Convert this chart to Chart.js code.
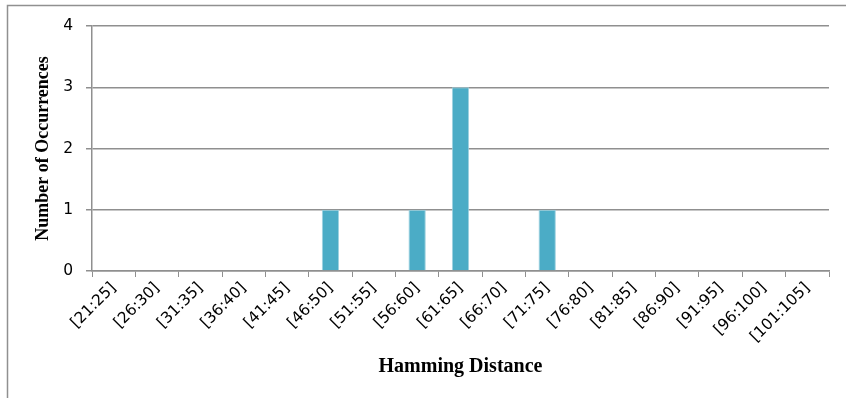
<!DOCTYPE html>
<html>
<head>
<meta charset="utf-8">
<script src="https://cdn.jsdelivr.net/npm/chart.js@4.4.0/dist/chart.umd.min.js"></script>
<style>
  html, body { margin: 0; padding: 0; background: #fff; }
  #wrap { width: 846px; height: 398px; position: relative; }
</style>
</head>
<body>
<div id="wrap"><canvas id="myChart" width="846" height="398"></canvas></div>
<script>
// bins of hamming distance
const categories = ['[21:25]', '[26:30]', '[31:35]', '[36:40]', '[41:45]', '[46:50]', '[51:55]', '[56:60]',
  '[61:65]', '[66:70]', '[71:75]', '[76:80]', '[81:85]', '[86:90]', '[91:95]', '[96:100]', '[101:105]'];
const occurrences = [0, 0, 0, 0, 0, 1, 0, 1, 3, 0, 1, 0, 0, 0, 0, 0, 0];
const yTicks = [0, 1, 2, 3, 4];

const gridColor = '#8f8f8f';

// outer frame of the chart (only left and top edges are visible)
const framePlugin = {
  id: 'frame',
  beforeDraw(chart) {
    const c = chart.ctx;
    c.save();
    c.strokeStyle = '#909090';
    c.lineWidth = 1.5;
    c.beginPath();
    c.moveTo(7.5, 398);
    c.lineTo(7.5, 5.5);
    c.lineTo(846, 5.5);
    c.stroke();
    c.restore();
  }
};

const ctx = document.getElementById('myChart');

new Chart(ctx, {
  type: 'bar',
  data: {
    labels: categories,
    datasets: [{
      data: occurrences,
      backgroundColor: '#4BACC6',
      borderColor: '#9fd2e0',
      borderWidth: 1,
      categoryPercentage: 1,
      barPercentage: 0.4
    }]
  },
  options: {
    responsive: false,
    animation: false,
    layout: { padding: { left: 0, right: 17, top: 26, bottom: 0 } },
    plugins: {
      legend: { display: false },
      tooltip: { enabled: false }
    },
    scales: {
      x: {
        afterFit(scale) { scale.height = 127; },
        grid: {
          offset: true,
          drawOnChartArea: false,
          drawTicks: true,
          tickLength: 6,
          color: gridColor,
          lineWidth: 1
        },
        border: { color: gridColor, width: 1.5 },
        ticks: {
          color: '#000',
          minRotation: 45,
          maxRotation: 45,
          autoSkip: false,
          padding: 2,
          font: { family: 'DejaVu Sans', size: 15.5 }
        },
        title: {
          display: true,
          text: 'Hamming Distance',
          color: '#000',
          padding: { top: 0, bottom: 19 },
          font: { family: 'Liberation Serif', size: 20, weight: 'bold' }
        }
      },
      y: {
        min: 0,
        max: 4,
        afterFit(scale) { scale.width = 92; },
        afterBuildTicks(scale) { scale.ticks = yTicks.map(v => ({ value: v })); },
        grid: {
          color: gridColor,
          lineWidth: 1.5,
          drawTicks: true,
          tickLength: 6
        },
        border: { color: gridColor, width: 1.5 },
        ticks: {
          color: '#000',
          padding: 13,
          font: { family: 'DejaVu Sans', size: 15.5 }
        },
        title: {
          display: true,
          text: 'Number of Occurrences',
          color: '#000',
          padding: { top: 33, bottom: 0 },
          font: { family: 'Liberation Serif', size: 18, weight: 'bold' }
        }
      }
    }
  },
  plugins: [framePlugin]
});
</script>
</body>
</html>
